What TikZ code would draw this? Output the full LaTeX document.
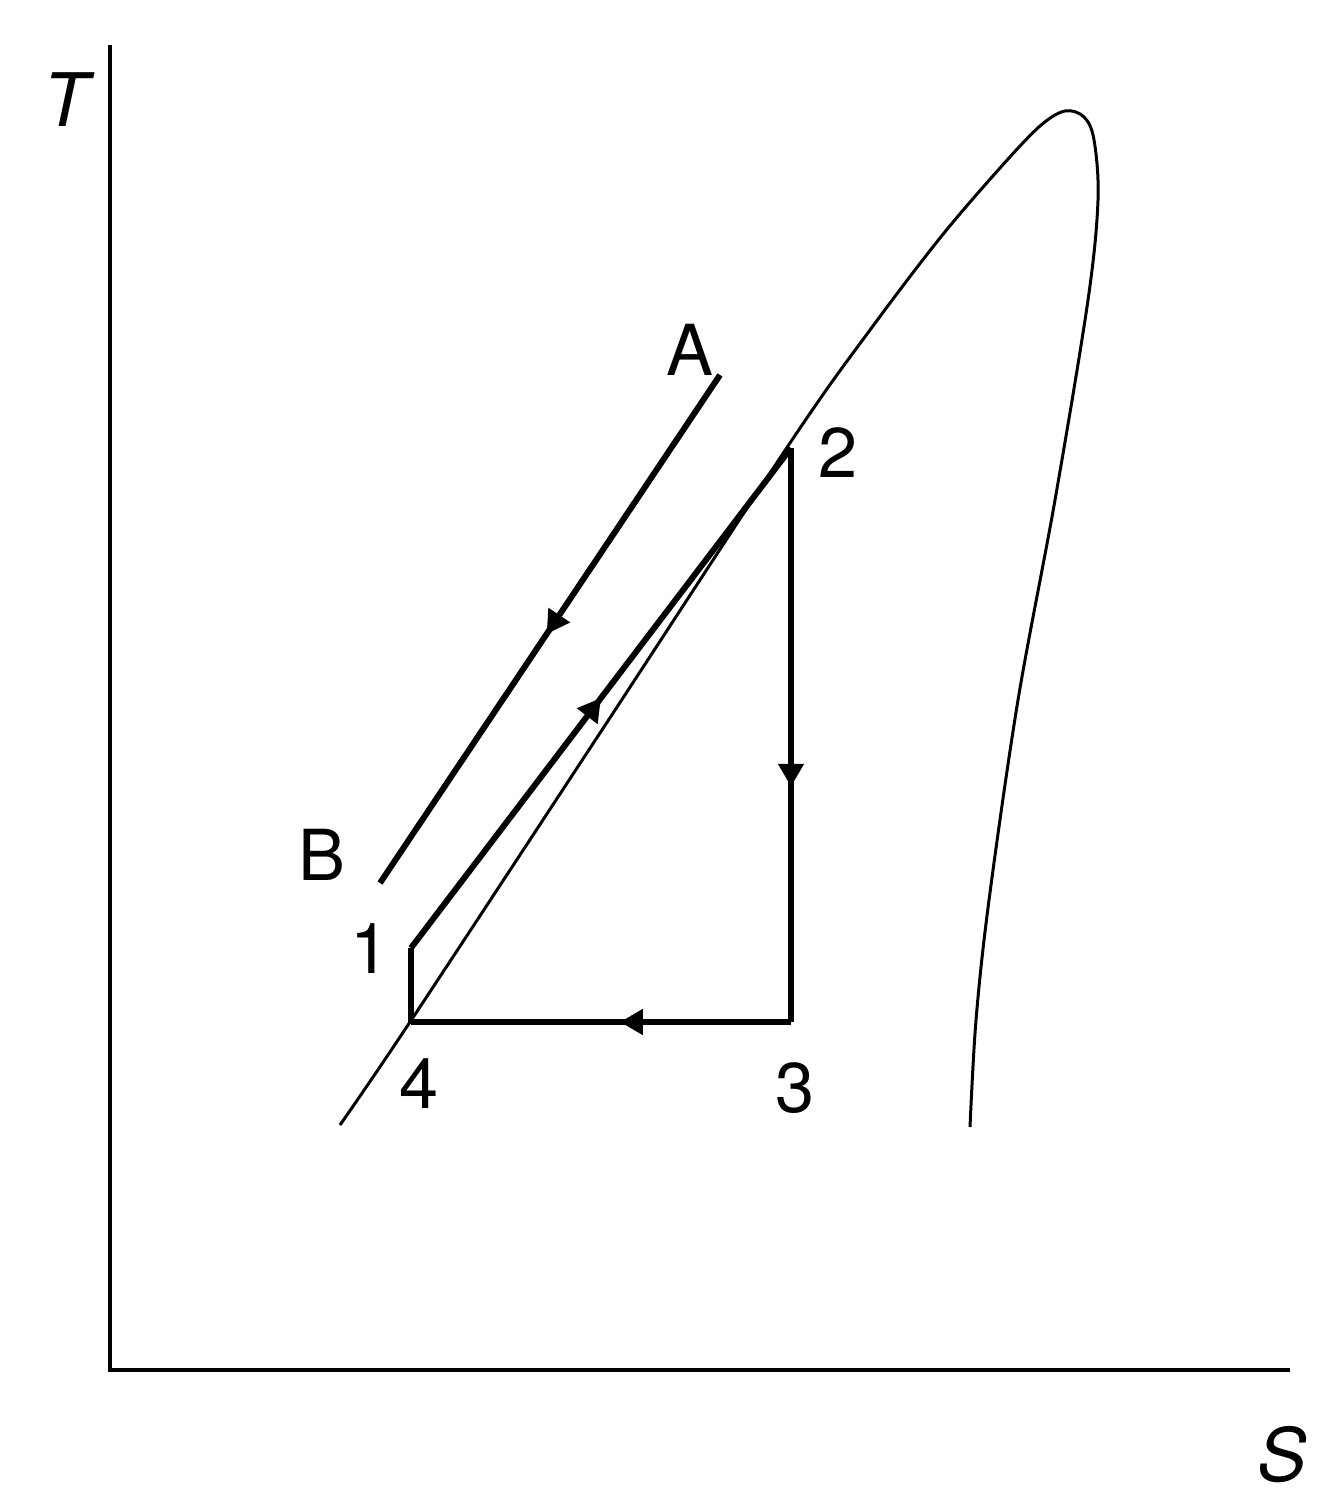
\documentclass[tikz,border=0pt]{standalone}
\usepackage{fontspec}
\setmainfont{TeX Gyre Heros}
\usetikzlibrary{arrows.meta,decorations.markings}

\tikzset{
  cycleline/.style={line width=1.7pt, line join=miter},
  thinline/.style={line width=0.85pt},
  midarrow/.style={postaction={decorate},
    decoration={markings, mark=at position #1 with {\arrow{Triangle[length=6.5pt,width=7pt]}}}},
  lbl/.style={font=\fontsize{20}{24}\selectfont, inner sep=0pt}
}

\begin{document}
\begin{tikzpicture}[x=0.01cm, y=-0.01cm]
\useasboundingbox (0,0) rectangle (1336,1510);

% axes
\coordinate (top) at (110,45);
\coordinate (origin) at (110,1370);
\coordinate (right) at (1290,1370);
\draw[line width=0.9pt] (top) -- (origin) -- (right);
\node[lbl, font=\fontsize{21}{25}\selectfont\itshape] (Tlabel) at (66,100) {T};
\node[lbl, font=\fontsize{21}{25}\selectfont\itshape] (Slabel) at (1282,1455) {S};

% saturation dome
\draw[thinline] plot[smooth, tension=0.55] coordinates {
  (340,1125) (410,1022) (600,733) (792,440) (870,330) (940,238) (1000,168)
  (1040,126) (1065,111) (1084,117) (1094,140) (1098,200) (1088,300) (1055,500)
  (1018,700) (989,900) (976,1020) (970,1127)};

% cycle points
\coordinate (p1) at (411,948);
\coordinate (p2) at (791,448);
\coordinate (p3) at (791,1022);
\coordinate (p4) at (411,1022);

\draw[cycleline, midarrow=0.5] (p1) -- (p2);
\draw[cycleline, midarrow=0.59] (p2) -- (p3);
\draw[cycleline, midarrow=0.45] (p3) -- (p4);
\draw[cycleline] (p4) -- (p1);

% line A-B
\coordinate (a) at (720,375);
\coordinate (b) at (380,883);
\draw[cycleline, midarrow=0.51] (a) -- (b);

% labels
\node[lbl] (l1) at (370,949) {1};
\node[lbl] (l2) at (838,453) {2};
\node[lbl] (l3) at (795,1088) {3};
\node[lbl] (l4) at (419,1084) {4};
\node[lbl] (lA) at (690,350) {A};
\node[lbl] (lB) at (322,855) {B};
\end{tikzpicture}
\end{document}
